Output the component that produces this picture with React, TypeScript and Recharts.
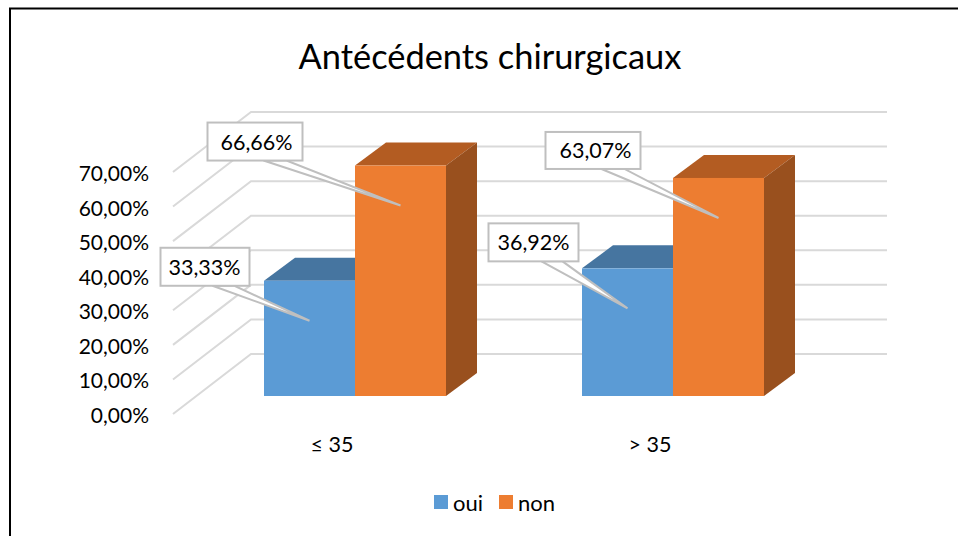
import React from 'react';
import { BarChart, Bar, XAxis, YAxis, CartesianGrid, Legend, LabelList } from 'recharts';

const categories = ['≤ 35', '> 35'];
const ouiValues = [33.33, 36.92];
const nonValues = [66.66, 63.07];
const yTicks = [0, 10, 20, 30, 40, 50, 60, 70];

const tableRows = categories.map((c, i) => ({ cat: c, oui: ouiValues[i], non: nonValues[i] }));

const FONT = 'Lato, "Open Sans", sans-serif';
const GRID = '#d9d9d9';
const CALLOUT = '#bfbfbf';

// 3D projection of the chart
const wallDx = 78;
const wallDy = 60;
const wallRight = 887;
const barPlaneDx = 23;
const barPlaneDy = 18;
const depthDx = 31;
const depthDy = 23;

const fmt = (v: number) => v.toFixed(2).replace('.', ',') + '%';

const GridLine = (p: any) => {
  const { x1, y1 } = p;
  return (
    <polyline
      points={`${x1},${y1} ${x1 + wallDx},${y1 - wallDy} ${wallRight},${y1 - wallDy}`}
      fill="none"
      stroke={GRID}
      strokeWidth={2}
    />
  );
};

const box3D = (front: string, top: string, side: string) => (p: any) => {
  const x = p.x + barPlaneDx;
  const y = p.y - barPlaneDy;
  const w = p.width;
  const h = p.height;
  return (
    <g>
      <polygon
        points={`${x},${y} ${x + depthDx},${y - depthDy} ${x + w + depthDx},${y - depthDy} ${x + w},${y}`}
        fill={top}
      />
      <polygon
        points={`${x + w},${y} ${x + w + depthDx},${y - depthDy} ${x + w + depthDx},${y + h - depthDy} ${x + w},${y + h}`}
        fill={side}
      />
      <rect x={x} y={y} width={w} height={h} fill={front} />
    </g>
  );
};

// callout geometry, relative to the tip of the pointer
const ouiCallouts = [
  { left: -149, right: -60, top: -73, bottom: -35, baseA: -97, baseB: -75, textX: -105 },
  { left: -139, right: -49, top: -85, bottom: -47, baseA: -86, baseB: -65, textX: -94 },
];
const nonCallouts = [
  { left: -193, right: -98, top: -83, bottom: -45, baseA: -137, baseB: -114, textX: -144 },
  { left: -173, right: -78, top: -86, bottom: -49, baseA: -117, baseB: -94, textX: -123 },
];

const callout = (layout: typeof ouiCallouts) => (p: any) => {
  const c = layout[p.index];
  const tipX = p.x + barPlaneDx + p.width / 2;
  const tipY = p.y - barPlaneDy + 40;
  return (
    <g>
      <polygon
        points={`${tipX + c.baseA},${tipY + c.bottom} ${tipX},${tipY} ${tipX + c.baseB},${tipY + c.bottom}`}
        fill="#ffffff"
        stroke={CALLOUT}
        strokeWidth={2}
      />
      <rect
        x={tipX + c.left}
        y={tipY + c.top}
        width={c.right - c.left}
        height={c.bottom - c.top}
        fill="#ffffff"
        stroke={CALLOUT}
        strokeWidth={2}
      />
      <text
        x={tipX + c.textX}
        y={tipY + (c.top + c.bottom) / 2}
        textAnchor="middle"
        dominantBaseline="central"
        fontFamily={FONT}
        fontSize={21.5}
        fill="#000000"
      >
        {fmt(Number(p.value))}
      </text>
    </g>
  );
};

const LegendContent = (p: any) => (
  <div
    style={{
      display: 'flex',
      alignItems: 'center',
      height: 24,
      marginLeft: 434,
      fontFamily: FONT,
      fontSize: 22,
      color: '#000',
    }}
  >
    {(p.payload || []).map((e: any) => (
      <span key={e.value} style={{ display: 'inline-flex', alignItems: 'center', marginRight: 16 }}>
        <span style={{ display: 'inline-block', width: 14, height: 14, background: e.color, marginRight: 5 }} />
        {e.value}
      </span>
    ))}
  </div>
);

export default function App() {
  return (
    <div style={{ position: 'absolute', left: 0, top: 0, width: 958, height: 536, background: '#fff' }}>
      <BarChart
        width={958}
        height={536}
        data={tableRows}
        margin={{ top: 172, right: 149, bottom: 22, left: 0 }}
        barGap={0}
        barSize={91}
      >
        <path d="M10,536 V8.5 H958" fill="none" stroke="#000" strokeWidth={2} />
        <text
          x={490}
          y={55}
          textAnchor="middle"
          dominantBaseline="central"
          fontFamily={FONT}
          fontSize={34.4}
          fill="#000"
        >
          Antécédents chirurgicaux
        </text>
        <CartesianGrid vertical={false} horizontal={GridLine as any} />
        <XAxis
          dataKey="cat"
          axisLine={false}
          tickLine={false}
          tickSize={0}
          tickMargin={23}
          height={76}
          interval={0}
          tick={{ fontFamily: FONT, fontSize: 21.5, fill: '#000' }}
        />
        <YAxis
          domain={[0, 70]}
          ticks={yTicks}
          width={173}
          axisLine={false}
          tickLine={false}
          tickSize={0}
          tickMargin={24}
          tickFormatter={fmt}
          tick={{ fontFamily: FONT, fontSize: 21, fill: '#000', dy: 1.5 }}
        />
        <Legend
          verticalAlign="bottom"
          itemSorter={null as any}
          content={LegendContent as any}
          wrapperStyle={{ left: 0, width: 958 }}
        />
        <Bar dataKey="oui" name="oui" fill="#5B9BD5" isAnimationActive={false} shape={box3D('#5B9BD5', '#4675A0', '#3F6E9A') as any}>
          <LabelList dataKey="oui" content={callout(ouiCallouts) as any} />
        </Bar>
        <Bar dataKey="non" name="non" fill="#ED7D31" isAnimationActive={false} shape={box3D('#ED7D31', '#B35C22', '#99501E') as any}>
          <LabelList dataKey="non" content={callout(nonCallouts) as any} />
        </Bar>
      </BarChart>
    </div>
  );
}
